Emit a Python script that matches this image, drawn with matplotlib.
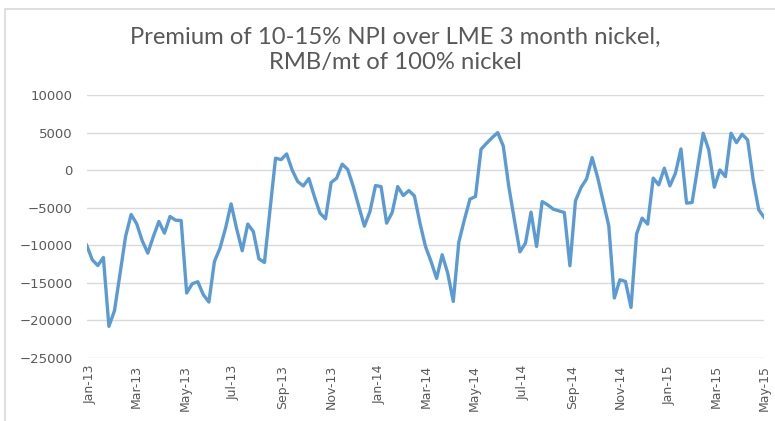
import numpy as np
import pandas as pd
import matplotlib
matplotlib.use("Agg")
import matplotlib.pyplot as plt
import matplotlib.dates as mdates
from matplotlib.patches import Rectangle

# weekly premium of NPI over LME 3m nickel, RMB/mt
premium = [
    -10000, -11930, -12690, -11620, -20790, -18700, -13800, -8830, -5900, -7140,
    -9400, -11040, -8830, -6840, -8380, -6170, -6660, -6700, -16350, -15120,
    -14850, -16580, -17550, -12150, -10380, -7720, -4490, -7810, -10730, -7180,
    -8170, -11800, -12290, -5300, 1590, 1400, 2160, 0, -1520, -2100,
    -1120, -3520, -5720, -6480, -1650, -1070, 800, 90, -2190, -4850,
    -7450, -5500, -2050, -2190, -7050, -5640, -2190, -3380, -2720, -3420,
    -7050, -10160, -12150, -14410, -11260, -13700, -17470, -9580, -6610, -3860,
    -3510, 2780, 3580, 4330, 4990, 3220, -2190, -6610, -10870, -9710,
    -5590, -10160, -4180, -4620, -5190, -5420, -5640, -12730, -4090, -2320,
    -1160, 1670, -990, -4180, -7410, -17020, -14590, -14810, -18270, -8510,
    -6390, -7180, -1070, -1960, 260, -2090, -410, 2820, -4390, -4310,
    340, 4910, 2690, -2270, 30, -860, 4910, 3660, 4780, 4020,
    -1300, -5280, -6310,
]
dates = pd.date_range("2012-12-28", periods=len(premium), freq="7D")

title = "Premium of 10-15% NPI over LME 3 month nickel,\nRMB/mt of 100% nickel"
y_ticks = [-25000, -20000, -15000, -10000, -5000, 0, 5000, 10000]

grey_text = "#595959"
grid_col = "#d9d9d9"
line_col = "#5b9bd5"

fig = plt.figure(figsize=(7.75, 4.21), dpi=100)
fig.patch.set_facecolor("white")

# chart border like the Excel chart area
fig.patches.append(Rectangle((5 / 775, -0.1), 1.1, 1.1 - 9 / 421,
                             transform=fig.transFigure, fill=False,
                             edgecolor=grid_col, lw=1.2))

ax = fig.add_axes([86.7 / 775, 63 / 421, (764.3 - 86.7) / 775, 263 / 421])
ax.plot(dates, premium, color=line_col, lw=2.4, solid_joinstyle="round")

ax.set_xlim(dates[0], dates[-1])
ax.set_ylim(-25000, 10000)
ax.set_yticks(y_ticks)
ax.yaxis.grid(True, color=grid_col, lw=1)
ax.set_axisbelow(True)
for s in ax.spines.values():
    s.set_visible(False)

ax.xaxis.set_major_locator(mdates.MonthLocator(bymonth=[1, 3, 5, 7, 9, 11]))
ax.xaxis.set_major_formatter(mdates.DateFormatter("%b-%y"))
ax.tick_params(axis="x", length=0, labelsize=9, colors=grey_text, rotation=90, pad=5)
ax.tick_params(axis="y", length=0, labelsize=9.5, colors=grey_text, pad=10)

fig.text(395 / 775, 1 - 50 / 421, title, ha="center", va="center",
         fontsize=17.2, color=grey_text, linespacing=1.25,
         family=["Lato", "DejaVu Sans"])

fig.savefig("out.png", dpi=100)
